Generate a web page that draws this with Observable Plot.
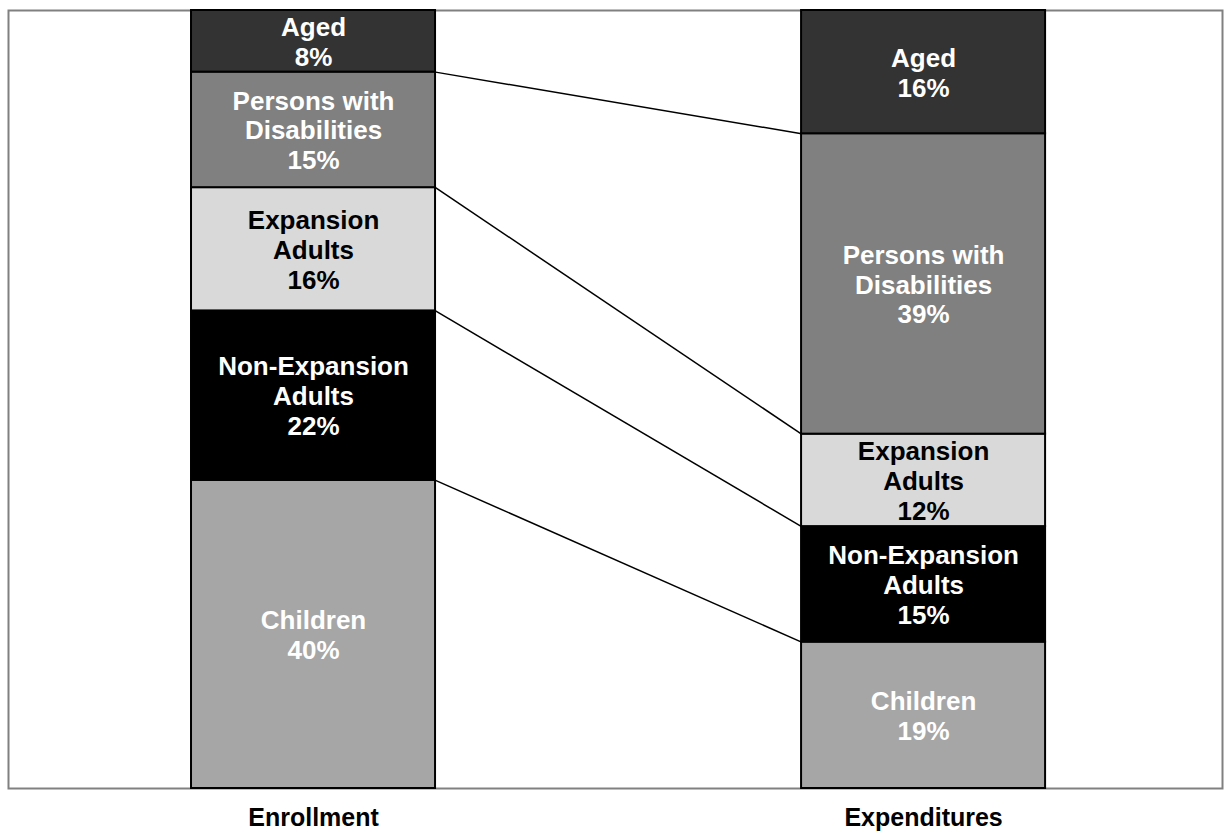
<!DOCTYPE html>
<html>
<head>
<meta charset="utf-8">
<script src="https://cdn.jsdelivr.net/npm/d3@7"></script>
<script src="https://cdn.jsdelivr.net/npm/@observablehq/plot@0.6"></script>
<style>
  body { margin: 0; background: #ffffff; }
</style>
</head>
<body>
<div id="chart"></div>
<script>
// Two stacked columns: share of enrollment vs. share of expenditures by eligibility group
const groups = ["Enrollment", "Expenditures"];
// stacked bottom → top
const categories = ["Children", "Non-Expansion Adults", "Expansion Adults", "Persons with Disabilities", "Aged"];
const categoryLabels = ["Children", "Non-Expansion\nAdults", "Expansion\nAdults", "Persons with\nDisabilities", "Aged"];
const enrollmentShare = [40, 22, 16, 15, 8];
const expenditureShare = [19, 15, 12, 39, 16];

const segmentFill = {
  "Children": "#a6a6a6",
  "Non-Expansion Adults": "#000000",
  "Expansion Adults": "#d9d9d9",
  "Persons with Disabilities": "#808080",
  "Aged": "#333333"
};
const labelFill = {
  "Children": "#ffffff",
  "Non-Expansion Adults": "#ffffff",
  "Expansion Adults": "#000000",
  "Persons with Disabilities": "#ffffff",
  "Aged": "#ffffff"
};

const series = [enrollmentShare, expenditureShare];
const rows = groups.flatMap((g, gi) =>
  categories.map((c, ci) => ({
    group: g,
    slot: gi,
    category: c,
    label: categoryLabels[ci],
    value: series[gi][ci]
  }))
);

// Connector lines join the same category boundary on both columns
const connectors = categories.slice(0, -1).map((c, ci) => {
  const top = s => d3.sum(s.slice(0, ci + 1)) / d3.sum(s);
  return { category: c, from: top(enrollmentShare), to: top(expenditureShare) };
});

const HALF = 0.2; // half column width, in x units

const font = "'Liberation Sans', Arial, Helvetica, sans-serif";

const chart = Plot.plot({
  width: 1225,
  height: 833,
  marginLeft: 8,
  marginRight: 3,
  marginTop: 10,
  marginBottom: 45,
  style: { fontFamily: font, background: "#ffffff" },
  x: { domain: [-0.5, 1.49] },
  y: { domain: [0, 1], axis: null },
  color: { type: "identity" },
  marks: [
    Plot.frame({ stroke: "#808080", strokeWidth: 2 }),
    Plot.link(connectors, {
      x1: () => 0 + HALF,
      x2: () => 1 - HALF,
      y1: "from",
      y2: "to",
      stroke: "#000000",
      strokeWidth: 1.5
    }),
    Plot.rectY(rows, Plot.stackY({
      x1: d => d.slot - HALF,
      x2: d => d.slot + HALF,
      y: "value",
      offset: "normalize",
      fill: d => segmentFill[d.category],
      stroke: "#000000",
      strokeWidth: 2
    })),
    Plot.text(rows, Plot.stackY({
      x: "slot",
      y: "value",
      offset: "normalize",
      text: d => `${d.label}\n${d.value}%`,
      fill: d => labelFill[d.category],
      fontSize: 26,
      fontWeight: "bold",
      lineHeight: 1.15
    })),
    Plot.axisX({
      ticks: [0, 1],
      tickFormat: i => groups[i],
      tickSize: 0,
      tickPadding: 20,
      fontSize: 25,
      fontWeight: "bold",
      label: null
    })
  ]
});

document.getElementById("chart").appendChild(chart);
</script>
</body>
</html>
